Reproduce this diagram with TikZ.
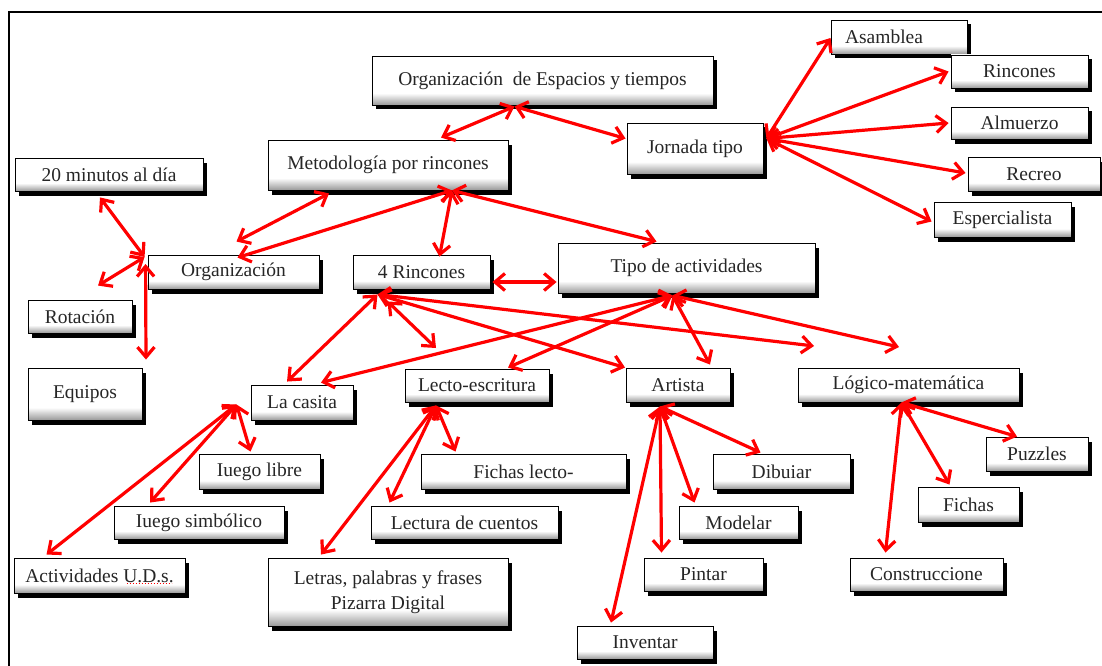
\documentclass[tikz,border=0pt]{standalone}
\usepackage{fontspec}
\setmainfont{Liberation Serif}
\usetikzlibrary{arrows.meta,shadows}
% soft grey band along the bottom of every box
\pgfdeclareverticalshading{boxshade}{100bp}{color(0bp)=(black!40); color(25bp)=(black!40); color(37bp)=(white); color(100bp)=(white)}
\tikzset{
  box/.style={draw=black, line width=0.9pt, inner sep=0pt, shading=boxshade,
    general shadow={fill=black, shadow xshift=4pt, shadow yshift=-4.5pt},
    font=\fontsize{19.5}{25}\selectfont, text=black!85, align=center},
  tipbarb/.tip={Straight Barb[length=10pt,width=17pt]},
  link/.style={draw=red, line width=3.2pt, tipbarb-tipbarb},
  squiggle/.style={draw=red, dotted, line width=1pt},
}
% \bx{name}{x1}{y1}{x2}{y2}{text}: box between two corners (pixel grid, y downwards)
\newcommand\bx[6]{\node[box, minimum width=#4pt-#2pt, minimum height=#5pt-#3pt] (#1) at ({(#2+#4)/2},{(#3+#5)/2}) {#6};}
\begin{document}
\begin{tikzpicture}[x=1pt, y=-1pt]
\useasboundingbox (0,0) rectangle (1102,666);
\clip (0,0) rectangle (1102,666);
% page frame
\draw[line width=2pt] (8.5,670) -- (8.5,12) -- (1110,12);

% boxes
\bx{esp}{372}{56}{713}{105}{Organización\ \ de Espacios y tiempos}
\bx{meto}{268}{140}{508}{190}{Metodología por rincones}
\bx{min}{15}{158}{203}{191}{20 minutos al día}
\bx{org}{148}{255}{319}{289}{Organización}
\bx{rin}{353}{255}{490}{289}{4 Rincones}
\bx{rot}{28}{300}{132}{333}{Rotación}
\bx{jor}{627}{123}{763}{174}{Jornada tipo}
\node[box, minimum height=34pt, inner xsep=14pt, text width=108pt, align=left] (asa) at (899,37) {Asamblea};
\bx{rinc}{951}{55}{1088}{88}{Rincones}
\bx{alm}{951}{107}{1088}{139}{Almuerzo}
\bx{rec}{968}{157}{1100}{191}{Recreo}
\bx{espe}{934}{202}{1071}{237}{Espercialista}
\bx{tipo}{558}{243}{815}{293}{Tipo de actividades}
\bx{equ}{28}{368}{142}{420}{Equipos}
\bx{cas}{251}{385}{353}{420}{La casita}
\bx{lec}{405}{369}{549}{402}{Lecto-escritura}
\bx{jlib}{199}{454}{320}{489}{Iuego libre}
\bx{fich}{421}{454}{626}{489}{Fichas lecto-}
\bx{jsim}{114}{506}{284}{539}{Iuego simbólico}
\bx{lcue}{371}{506}{558}{539}{Lectura de cuentos}
\bx{act}{14}{558}{185}{593}{Actividades U.D.s.}
\bx{let}{268}{558}{508}{626}{Letras, palabras y frases\\Pizarra Digital}
\bx{art}{626}{368}{730}{402}{Artista}
\bx{log}{798}{368}{1019}{402}{Lógico-matemática}
\bx{dib}{713}{454}{850}{489}{Dibuiar}
\bx{mod}{679}{506}{798}{539}{Modelar}
\bx{pin}{644}{558}{763}{591}{Pintar}
\bx{inv}{577}{626}{713}{659}{Inventar}
\bx{puz}{986}{437}{1088}{471}{Puzzles}
\bx{fch}{918}{487}{1019}{522}{Fichas}
\bx{con}{850}{558}{1003}{591}{Construccione}

% spell-check mark under the abbreviation
\draw[squiggle] ([shift={(27,8)}]act.center) -- ([shift={(72,8)}]act.center);

% open ends of three links
\coordinate (free1) at (436,348);
\coordinate (free2) at (814,346);
\coordinate (free3) at (899,347);

% links
\draw[link] ([shift={(-28,1)}]esp.south) -- ([shift={(53,-2)}]meto.north);
\draw[link] ([shift={(-28,1)}]esp.south) -- ([shift={(-1,-10)}]jor.west);

\draw[link] ([shift={(-59,3)}]meto.south) -- ([shift={(3,-13)}]org.north);
\draw[link] ([shift={(64,0)}]meto.south) -- ([shift={(4,3)}]org.north);
\draw[link] ([shift={(64,0)}]meto.south) -- ([shift={(18,2)}]rin.north);
\draw[link] ([shift={(64,0)}]meto.south) -- ([shift={(-30,-1)}]tipo.north);

\draw[link] ([shift={(-9,6)}]min.south) -- ([shift={(-3,-15)}]org.west);
\draw[link] ([shift={(-3,-15)}]org.west) -- ([shift={(18,-14)}]rot.north);
\draw[link] ([shift={(-2,-8)}]org.west) -- ([shift={(61,-8)}]equ.north);

\draw[link] ([shift={(2,10)}]rin.east) -- ([shift={(-1,14)}]tipo.west);

\draw[link] ([shift={(-44,5)}]rin.south) -- ([shift={(-15,-3)}]cas.north);
\draw[link] ([shift={(-34,12)}]rin.south) -- (free1);
\draw[link] ([shift={(-44,5)}]rin.south) -- ([shift={(-53,0)}]art.north);
\draw[link] ([shift={(-44,5)}]rin.south) -- (free2);

\draw[link] ([shift={(-14,2)}]tipo.south) -- ([shift={(19,-2)}]cas.north);
\draw[link] ([shift={(-14,2)}]tipo.south) -- ([shift={(31,-1)}]lec.north);
\draw[link] ([shift={(-14,2)}]tipo.south) -- ([shift={(32,-3)}]art.north);
\draw[link] ([shift={(-14,2)}]tipo.south) -- (free3);

\draw[link] ([shift={(-14,2)}]cas.west) -- ([shift={(-9,-2)}]jlib.north);
\draw[link] ([shift={(-14,2)}]cas.west) -- ([shift={(-49,-3)}]jsim.north);
\draw[link] ([shift={(-14,2)}]cas.west) -- ([shift={(-53,-3)}]act.north);

\draw[link] ([shift={(-41,3)}]lec.south) -- ([shift={(-68,-2)}]fich.north);
\draw[link] ([shift={(-41,3)}]lec.south) -- ([shift={(-75,-3)}]lcue.north);
\draw[link] ([shift={(-41,3)}]lec.south) -- ([shift={(-67,-3)}]let.north);

\draw[link] ([shift={(-18,4)}]art.south) -- ([shift={(-21,-1)}]dib.north);
\draw[link] ([shift={(-18,4)}]art.south) -- ([shift={(-44,-3)}]mod.north);
\draw[link] ([shift={(-18,4)}]art.south) -- ([shift={(-42,-5)}]pin.north);
\draw[link] ([shift={(-18,4)}]art.south) -- ([shift={(-34,-3)}]inv.north);

\draw[link] ([shift={(-7,0)}]log.south) -- ([shift={(-20,0)}]puz.north);
\draw[link] ([shift={(-7,0)}]log.south) -- ([shift={(-19,-2)}]fch.north);
\draw[link] ([shift={(-7,0)}]log.south) -- ([shift={(-41,-5)}]con.north);

\draw[link] ([shift={(3,-10)}]jor.east) -- ([shift={(0,1)}]asa.west);
\draw[link] ([shift={(3,-10)}]jor.east) -- ([shift={(-2,0)}]rinc.west);
\draw[link] ([shift={(3,-10)}]jor.east) -- ([shift={(-2,0)}]alm.west);
\draw[link] ([shift={(3,-10)}]jor.east) -- ([shift={(-2,-1)}]rec.west);
\draw[link] ([shift={(3,-10)}]jor.east) -- ([shift={(-2,2)}]espe.west);
\end{tikzpicture}
\end{document}
